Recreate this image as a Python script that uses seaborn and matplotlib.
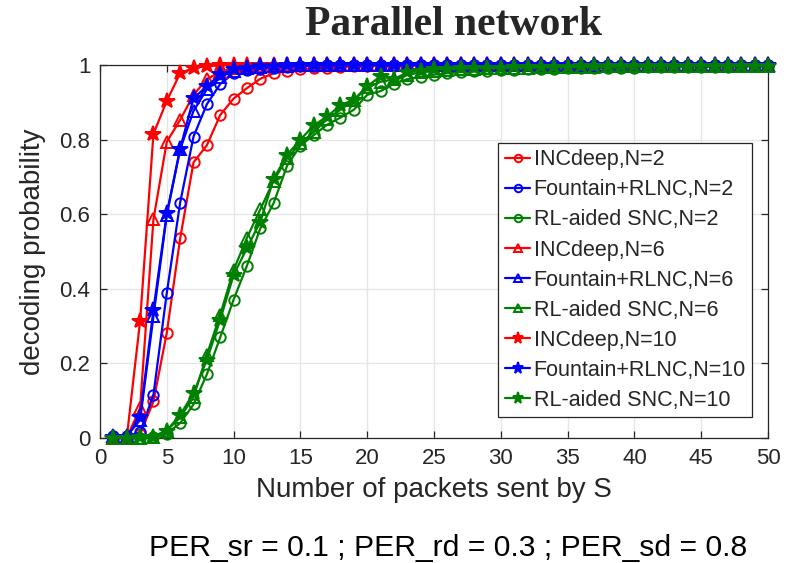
import numpy as np
import pandas as pd
import matplotlib
matplotlib.use("Agg")
import matplotlib.pyplot as plt
import seaborn as sns

x = list(range(1, 51))

def pad(vals, tail):
    return vals + [tail] * (50 - len(vals))

inc_n2 = pad([0, 0, 0.01, 0.098, 0.282, 0.535, 0.739, 0.785, 0.866, 0.91, 0.938, 0.963, 0.978,
              0.984, 0.988, 0.991, 0.993, 0.995, 0.996, 0.997, 0.998, 0.998, 0.999, 0.999], 1.0)
fou_n2 = pad([0.005, 0.005, 0.015, 0.116, 0.389, 0.631, 0.808, 0.895, 0.949, 0.978, 0.986, 0.99,
              0.993, 0.995, 0.997, 0.998, 0.999], 1.0)
rl_n2 = pad([0, 0, 0, 0.003, 0.012, 0.04, 0.09, 0.171, 0.27, 0.371, 0.462, 0.562, 0.63, 0.73,
             0.784, 0.812, 0.84, 0.859, 0.88, 0.92, 0.93, 0.95, 0.962, 0.968, 0.974, 0.978,
             0.981, 0.983, 0.985, 0.986, 0.987, 0.988, 0.989, 0.99, 0.991, 0.991, 0.992, 0.992,
             0.993, 0.993, 0.994, 0.994, 0.994, 0.995, 0.995, 0.995, 0.995, 0.996, 0.996, 0.996], 0.996)
inc_n6 = pad([0, 0, 0.08, 0.586, 0.794, 0.853, 0.92, 0.962, 0.982, 0.991, 0.995, 0.998], 1.0)
fou_n6 = pad([0.005, 0.005, 0.048, 0.326, 0.598, 0.774, 0.877, 0.935, 0.968, 0.984, 0.991, 0.995,
              0.997, 0.998, 0.999], 1.0)
rl_n6 = pad([0, 0, 0, 0.004, 0.02, 0.055, 0.11, 0.223, 0.331, 0.45, 0.537, 0.613, 0.69, 0.75,
             0.79, 0.82, 0.855, 0.88, 0.905, 0.94, 0.955, 0.962, 0.974, 0.98, 0.984, 0.987,
             0.989, 0.99, 0.991, 0.992, 0.993, 0.993, 0.994, 0.994, 0.995, 0.995, 0.995, 0.996,
             0.996, 0.996, 0.996, 0.997, 0.997, 0.997, 0.997, 0.997, 0.997, 0.998, 0.998, 0.998], 0.998)
inc_n10 = pad([0, 0, 0.313, 0.815, 0.904, 0.978, 0.992, 0.997, 0.999], 1.0)
fou_n10 = pad([0.003, 0.003, 0.057, 0.344, 0.602, 0.776, 0.911, 0.943, 0.975, 0.988, 0.993, 0.996,
               0.998, 0.999], 1.0)
rl_n10 = pad([0, 0, 0.002, 0.004, 0.02, 0.062, 0.12, 0.21, 0.317, 0.437, 0.509, 0.58, 0.695, 0.759,
              0.80, 0.838, 0.862, 0.892, 0.907, 0.943, 0.97, 0.962, 0.98, 0.985, 0.988, 0.99,
              0.991, 0.992, 0.993, 0.993, 0.994, 0.994, 0.995, 0.995, 0.995, 0.996, 0.996, 0.996,
              0.996, 0.997, 0.997, 0.997, 0.997, 0.997, 0.998, 0.998, 0.998, 0.998, 0.998, 0.998], 0.998)

labels = ["INCdeep,N=2", "Fountain+RLNC,N=2", "RL-aided SNC,N=2",
          "INCdeep,N=6", "Fountain+RLNC,N=6", "RL-aided SNC,N=6",
          "INCdeep,N=10", "Fountain+RLNC,N=10", "RL-aided SNC,N=10"]
series = [inc_n2, fou_n2, rl_n2, inc_n6, fou_n6, rl_n6, inc_n10, fou_n10, rl_n10]
colors = ["#ff0000", "#0000ff", "#008000"] * 3
markers = ["o"] * 3 + ["^"] * 3 + ["*"] * 3
filled = [False] * 6 + [True] * 3
msizes = [7.5] * 3 + [8] * 3 + [11.5] * 3

xticks = list(range(0, 51, 5))
yticks = [0, 0.2, 0.4, 0.6, 0.8, 1]
yticklabels = ["0", "0.2", "0.4", "0.6", "0.8", "1"]

sns.set_style("white")
plt.rcParams['font.family'] = ['Liberation Sans', 'DejaVu Sans']

fig = plt.figure(figsize=(7.9, 5.63), dpi=100)
ax = fig.add_axes([100 / 790, 1 - 438 / 563, 668 / 790, 373 / 563])

for lab, ys, c, m, f, ms in zip(labels, series, colors, markers, filled, msizes):
    df = pd.DataFrame({"x": x, "y": ys})
    sns.lineplot(data=df, x="x", y="y", ax=ax, color=c, marker=m, markersize=ms,
                 markeredgecolor=c, markerfacecolor=(c if f else "none"),
                 markeredgewidth=1.4, linewidth=1.6, label=lab, errorbar=None,
                 clip_on=False, zorder=3)

ax.set_xlim(0, 50)
ax.set_ylim(0, 1)
ax.set_xticks(xticks)
ax.set_yticks(yticks)
ax.set_yticklabels(yticklabels)
ax.grid(True, color="#e6e6e6", linewidth=1.0)
ax.set_axisbelow(True)
for s in ax.spines.values():
    s.set_color("#262626")
    s.set_linewidth(0.9)
    s.set_visible(True)
ax.tick_params(direction="in", length=5, width=0.9, color="#262626",
               top=True, right=True, bottom=True, left=True,
               labelsize=16, labelcolor="#262626", pad=7)

ax.set_xlabel("Number of packets sent by S", fontsize=20, color="#262626", labelpad=6)
ax.set_ylabel("decoding probability", fontsize=20, color="#262626", labelpad=10)

leg = ax.legend(loc="upper left", bbox_to_anchor=(0.596, 0.791), borderaxespad=0,
                fontsize=15.5, frameon=True, fancybox=False, framealpha=1,
                edgecolor="#262626", handlelength=1.2, handletextpad=0.15,
                labelspacing=0.42, borderpad=0.3, markerscale=0.72)
leg.get_frame().set_linewidth(0.9)

fig.text(454 / 790, 1 - 25 / 563, "Parallel network", ha="center", va="center",
         fontsize=30, fontweight="bold", family=["Liberation Serif", "DejaVu Serif"])
fig.text(448 / 790, 1 - 548 / 563, "PER_sr = 0.1 ; PER_rd = 0.3 ; PER_sd = 0.8",
         ha="center", va="center", fontsize=21.7, color="black")

fig.savefig("out.png", dpi=100)
